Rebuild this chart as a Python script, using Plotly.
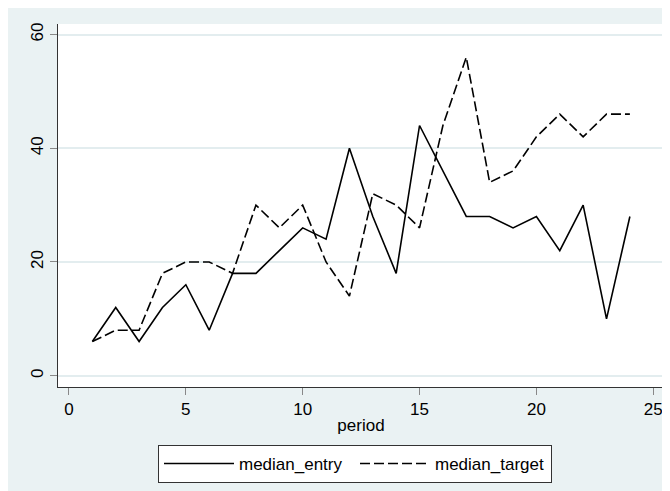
import plotly.graph_objects as go

period = list(range(1, 25))
median_entry = [6, 12, 6, 12, 16, 8, 18, 18, 22, 26, 24, 40, 28, 18, 44, 36, 28, 28, 26, 28, 22, 30, 10, 28]
median_target = [6, 8, 8, 18, 20, 20, 18, 30, 26, 30, 20, 14, 32, 30, 26, 44, 56, 34, 36, 42, 46, 42, 46, 46]
x_ticks = [0, 5, 10, 15, 20, 25]
y_ticks = [0, 20, 40, 60]

# figure is placed at (8, 8) by the page's body margin
OFF = 8
W, H = 670, 491
L, R, T, B = 58 - OFF, 664 - OFF, 24 - OFF, 387 - OFF
pw, ph = R - L, B - T

def px(xp):
    return (xp - OFF - L) / pw

def py(yp):
    return (B - (yp - OFF)) / ph

BG = "#EAF2F3"
FONT = "Liberation Sans, Arial, sans-serif"

fig = go.Figure()
fig.add_trace(go.Scatter(x=period, y=median_entry, mode="lines", name="median_entry",
                         line=dict(color="black", width=1.6)))
fig.add_trace(go.Scatter(x=period, y=median_target, mode="lines", name="median_target",
                         line=dict(color="black", width=1.6, dash="10px,4px")))

fig.update_layout(
    width=W, height=H,
    margin=dict(l=L, r=W - R, t=T, b=H - B, pad=0, autoexpand=False),
    paper_bgcolor=BG,
    plot_bgcolor="white",
    font=dict(family=FONT, size=17, color="black"),
    showlegend=True,
    legend=dict(orientation="h", x=px(158), xanchor="left", y=py(445), yanchor="top",
                bgcolor="white", bordercolor="#333", borderwidth=1,
                font=dict(size=17), itemwidth=70, entrywidth=111, tracegroupgap=0),
    xaxis=dict(range=[-0.47, 25.46], tickvals=x_ticks, ticks="outside", ticklen=7,
               tickcolor="#888", showgrid=False, zeroline=False, showline=True,
               linecolor="#333", linewidth=1, automargin=False,
               title=dict(text="period", standoff=0, font=dict(size=17))),
    yaxis=dict(range=[-1.99, 61.85], tickvals=y_ticks, ticks="outside", ticklen=7,
               tickcolor="#888", showgrid=True, gridcolor="#E3EDEF", gridwidth=1.5,
               zeroline=False, showline=True, linecolor="#333", linewidth=1,
               automargin=False, tickangle=-90),
)

fig.write_html("out.html")
